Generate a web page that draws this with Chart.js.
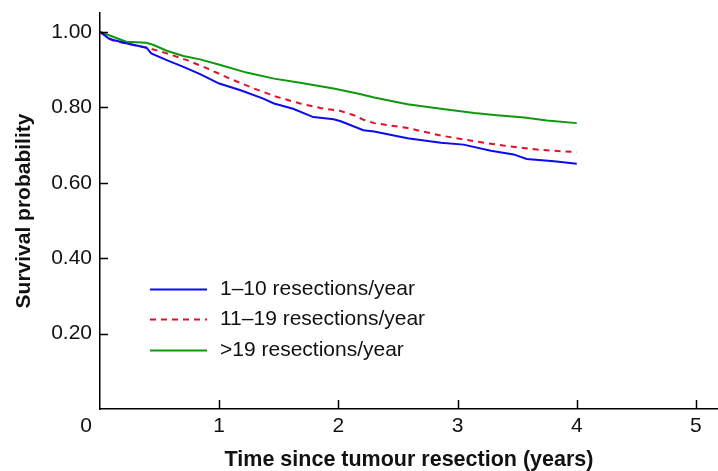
<!DOCTYPE html>
<html>
<head>
<meta charset="utf-8">
<script src="https://cdn.jsdelivr.net/npm/chart.js@4.4.1/dist/chart.umd.min.js"></script>
<style>
  html, body { margin: 0; padding: 0; background: #fff; }
  #wrap { width: 718px; height: 471px; position: relative; }
</style>
</head>
<body>
<div id="wrap"><canvas id="kmChart"></canvas></div>
<script>
// ---- data ----
const seriesLabels = ["1–10 resections/year", "11–19 resections/year", ">19 resections/year"];

const tLow = [0, 0.08, 0.22, 0.39, 0.43, 0.56, 0.70, 0.84, 1.0, 1.18, 1.37, 1.46, 1.62, 1.79, 1.96, 2.02, 2.21, 2.30, 2.58, 2.86, 3.05, 3.28, 3.47, 3.58, 3.81, 4.0];
const sLow = [1.0, 0.981, 0.97, 0.958, 0.943, 0.925, 0.907, 0.888, 0.863, 0.845, 0.823, 0.81, 0.796, 0.774, 0.768, 0.763, 0.739, 0.736, 0.718, 0.706, 0.701, 0.685, 0.675, 0.663, 0.657, 0.65];

const tMid = [0, 0.11, 0.28, 0.42, 0.56, 0.73, 0.90, 1.09, 1.29, 1.48, 1.68, 1.85, 2.02, 2.13, 2.21, 2.30, 2.58, 2.86, 3.14, 3.42, 3.70, 4.0];
const sMid = [0.999, 0.977, 0.965, 0.956, 0.943, 0.925, 0.903, 0.876, 0.85, 0.828, 0.81, 0.798, 0.79, 0.779, 0.767, 0.758, 0.745, 0.725, 0.71, 0.697, 0.687, 0.681];

const tHigh = [0, 0.11, 0.22, 0.39, 0.45, 0.56, 0.70, 0.84, 1.01, 1.23, 1.46, 1.68, 1.96, 2.18, 2.30, 2.58, 2.86, 3.14, 3.33, 3.56, 3.75, 4.0];
const sHigh = [1.0, 0.987, 0.974, 0.971, 0.965, 0.95, 0.936, 0.927, 0.912, 0.892, 0.876, 0.865, 0.85, 0.835, 0.826, 0.808, 0.796, 0.785, 0.779, 0.773, 0.765, 0.758];

const xTicks = [0, 1, 2, 3, 4, 5];
const yTicks = [0.2, 0.4, 0.6, 0.8, 1.0];

const FONT = "'Liberation Sans', Arial, Helvetica, sans-serif";

function pts(ts, ss) {
  return ts.map((t, i) => ({ x: t, y: ss[i] }));
}

// inward ticks, the lone "0" at the corner and the legend inside the plot
const decorPlugin = {
  id: "decor",
  afterDraw(chart) {
    const c = chart.ctx;
    const xs = chart.scales.x;
    const ys = chart.scales.y;
    const area = chart.chartArea;
    c.save();
    c.strokeStyle = "#000";
    c.lineWidth = 1.5;
    xTicks.forEach((v) => {
      if (v === 0) return;
      const px = Math.round(xs.getPixelForValue(v)) + 0.5;
      c.beginPath();
      c.moveTo(px, area.bottom);
      c.lineTo(px, area.bottom - 9);
      c.stroke();
    });
    yTicks.forEach((v) => {
      const py = Math.round(ys.getPixelForValue(v)) + 0.5;
      c.beginPath();
      c.moveTo(area.left, py);
      c.lineTo(area.left + 8, py);
      c.stroke();
    });

    c.fillStyle = "#111";
    c.font = "21px " + FONT;
    c.textAlign = "center";
    c.textBaseline = "middle";
    c.fillText("0", area.left - 14, 426);

    // legend
    const rows = [289, 319, 350];
    c.font = "21px " + FONT;
    c.textAlign = "left";
    chart.data.datasets.forEach((ds, i) => {
      c.strokeStyle = ds.borderColor;
      c.lineWidth = 2;
      c.setLineDash(ds.borderDash || []);
      c.beginPath();
      c.moveTo(150, rows[i] + 0.5);
      c.lineTo(207, rows[i] + 0.5);
      c.stroke();
      c.setLineDash([]);
      c.fillStyle = "#111";
      c.fillText(ds.label, 220, rows[i]);
    });
    c.restore();
  },
};

const ctx = document.getElementById("kmChart").getContext("2d");
new Chart(ctx, {
  type: "line",
  data: {
    datasets: [
      {
        label: seriesLabels[0],
        data: pts(tLow, sLow),
        borderColor: "#0a0af5",
        borderWidth: 2,
        pointRadius: 0,
        tension: 0,
      },
      {
        label: seriesLabels[1],
        data: pts(tMid, sMid),
        borderColor: "#e3102a",
        borderWidth: 2,
        borderDash: [6, 5],
        pointRadius: 0,
        tension: 0,
      },
      {
        label: seriesLabels[2],
        data: pts(tHigh, sHigh),
        borderColor: "#0e980e",
        borderWidth: 2,
        pointRadius: 0,
        tension: 0,
      },
    ],
  },
  options: {
    responsive: true,
    maintainAspectRatio: false,
    animation: false,
    layout: { padding: { top: 13, right: 0, left: 0, bottom: 0 } },
    plugins: {
      legend: { display: false },
      tooltip: { enabled: false },
    },
    scales: {
      x: {
        type: "linear",
        min: 0,
        max: 5.185,
        afterBuildTicks: (s) => { s.ticks = xTicks.map((v) => ({ value: v })); },
        afterFit: (s) => {
          s.height = 62;
          s.paddingLeft = 0;
          s.paddingRight = 0;
        },
        grid: { display: false, drawTicks: false },
        border: { display: true, color: "#000", width: 1.5 },
        ticks: {
          color: "#111",
          padding: 5,
          maxRotation: 0,
          font: { family: FONT, size: 21 },
          callback: (v) => (v === 0 ? "" : String(v)),
        },
        title: {
          display: true,
          text: "Time since tumour resection (years)",
          color: "#111",
          font: { family: FONT, size: 21.5, weight: "bold", lineHeight: 1 },
          padding: { top: 0, bottom: 0 },
        },
      },
      y: {
        min: 0,
        max: 1.05,
        afterBuildTicks: (s) => { s.ticks = yTicks.map((v) => ({ value: v })); },
        afterFit: (s) => {
          s.width = 100;
          s.paddingTop = 0;
          s.paddingBottom = 0;
        },
        grid: { display: false, drawTicks: false },
        border: { display: true, color: "#000", width: 1.5 },
        ticks: {
          color: "#111",
          padding: 8,
          font: { family: FONT, size: 21 },
          callback: (v) => v.toFixed(2),
        },
        title: {
          display: true,
          text: "Survival probability",
          color: "#111",
          font: { family: FONT, size: 21, weight: "bold" },
          padding: { top: 12, bottom: 0 },
        },
      },
    },
  },
  plugins: [decorPlugin],
});
</script>
</body>
</html>
